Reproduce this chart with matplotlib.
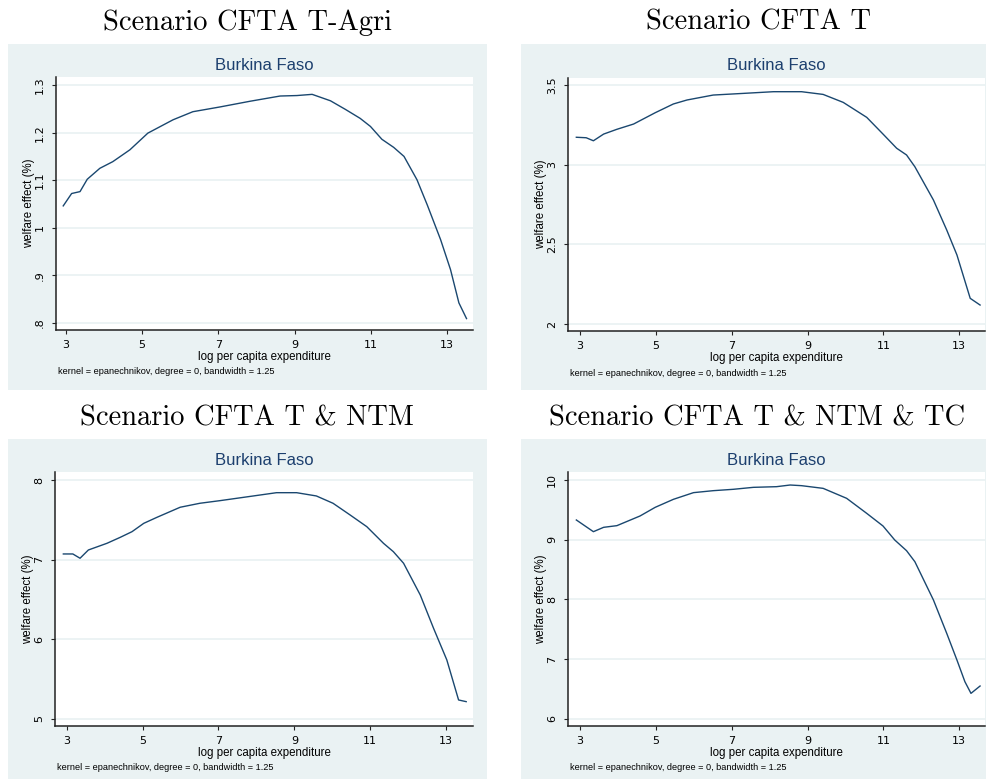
import matplotlib
matplotlib.use("Agg")
import matplotlib.pyplot as plt
from matplotlib.patches import Rectangle

W, H = 986, 781

titles = ["Scenario CFTA T-Agri", "Scenario CFTA T",
          "Scenario CFTA T & NTM", "Scenario CFTA T & NTM & TC"]
country = "Burkina Faso"
xlabel = "log per capita expenditure"
ylabel = "welfare effect (%)"
note = "kernel = epanechnikov, degree = 0, bandwidth = 1.25"
xticks = [3, 5, 7, 9, 11, 13]

# scenario T-Agri
x_agri = [2.93, 3.15, 3.37, 3.56, 3.89, 4.23, 4.68, 5.15, 5.81, 6.33, 7.04, 7.83, 8.62,
          9.06, 9.46, 9.94, 10.33, 10.72, 10.99, 11.29, 11.60, 11.87, 12.21, 12.48,
          12.83, 13.09, 13.31, 13.51]
y_agri = [1.046, 1.072, 1.076, 1.102, 1.125, 1.139, 1.164, 1.199, 1.227, 1.244, 1.254,
          1.266, 1.277, 1.278, 1.2805, 1.267, 1.249, 1.230, 1.213, 1.186, 1.169, 1.150,
          1.101, 1.048, 0.975, 0.912, 0.842, 0.809]
yt_agri = [0.8, 0.9, 1.0, 1.1, 1.2, 1.3]
yl_agri = [".8", ".9", "1", "1.1", "1.2", "1.3"]

# scenario T
x_t = [2.90, 3.16, 3.35, 3.62, 3.97, 4.41, 4.98, 5.46, 5.82, 6.51, 7.35, 8.10, 8.84,
       9.41, 9.94, 10.56, 10.99, 11.35, 11.61, 11.83, 12.32, 12.67, 12.94, 13.29, 13.55]
y_t = [3.172, 3.169, 3.150, 3.192, 3.222, 3.255, 3.326, 3.381, 3.406, 3.437, 3.448,
       3.458, 3.458, 3.441, 3.391, 3.297, 3.192, 3.103, 3.061, 2.987, 2.778, 2.590,
       2.433, 2.161, 2.119]
yt_t = [2, 2.5, 3, 3.5]
yl_t = ["2", "2.5", "3", "3.5"]

# scenario T & NTM
x_ntm = [2.91, 3.16, 3.35, 3.57, 4.06, 4.41, 4.72, 5.03, 5.38, 5.99, 6.51, 7.04, 7.92,
         8.53, 9.06, 9.58, 10.02, 10.47, 10.91, 11.35, 11.61, 11.88, 12.32, 12.67,
         13.02, 13.33, 13.53]
y_ntm = [7.070, 7.070, 7.016, 7.120, 7.204, 7.279, 7.350, 7.455, 7.531, 7.657, 7.707,
         7.740, 7.799, 7.840, 7.840, 7.799, 7.707, 7.560, 7.413, 7.204, 7.099, 6.953,
         6.554, 6.136, 5.738, 5.235, 5.214]
yt_ntm = [5, 6, 7, 8]
yl_ntm = ["5", "6", "7", "8"]

# scenario T & NTM & TC
x_tc = [2.90, 3.35, 3.62, 3.97, 4.58, 4.98, 5.46, 5.99, 6.51, 7.04, 7.57, 8.18, 8.54,
        8.84, 9.41, 10.03, 10.56, 10.99, 11.30, 11.61, 11.83, 12.32, 12.67, 12.94,
        13.15, 13.31, 13.55]
y_tc = [9.330, 9.134, 9.207, 9.235, 9.397, 9.542, 9.676, 9.788, 9.821, 9.844, 9.877,
        9.888, 9.916, 9.905, 9.860, 9.693, 9.441, 9.229, 8.994, 8.816, 8.631, 7.989,
        7.431, 6.983, 6.620, 6.425, 6.548]
yt_tc = [6, 7, 8, 9, 10]
yl_tc = ["6", "7", "8", "9", "10"]

series = [(x_agri, y_agri, yt_agri, yl_agri),
          (x_t, y_t, yt_t, yl_t),
          (x_ntm, y_ntm, yt_ntm, yl_ntm),
          (x_tc, y_tc, yt_tc, yl_tc)]

# pixel layout: background box, plot box, title centre/baseline, axis limits
layout = [
    dict(bg=(8, 44, 487, 390), plot=(56, 77, 473, 330), title=(247, 30),
         xlim=(2.74, 13.68), ylim=(0.785, 1.317)),
    dict(bg=(521, 44, 986, 390), plot=(568, 78, 985, 331), title=(758, 30),
         xlim=(2.68, 13.68), ylim=(1.956, 3.544)),
    dict(bg=(8, 439, 487, 779), plot=(55, 472, 473, 726), title=(247, 426),
         xlim=(2.69, 13.71), ylim=(4.908, 8.10)),
    dict(bg=(521, 439, 986, 779), plot=(568, 472, 985, 726), title=(757, 426),
         xlim=(2.68, 13.68), ylim=(5.878, 10.134)),
]

bg_col = "#EAF2F3"
line_col = "#1A476F"

fig = plt.figure(figsize=(W / 100, H / 100), dpi=100)
fig.patch.set_facecolor("white")


def fx(x):
    return x / W


def fy(y):
    return 1 - y / H


for (xs, ys, yt, yl), lay, title in zip(series, layout, titles):
    bx0, by0, bx1, by1 = lay["bg"]
    fig.add_artist(Rectangle((fx(bx0), fy(by1)), (bx1 - bx0) / W, (by1 - by0) / H,
                             transform=fig.transFigure, facecolor=bg_col,
                             edgecolor="none", zorder=0))
    px0, py0, px1, py1 = lay["plot"]
    ax = fig.add_axes([fx(px0), fy(py1), (px1 - px0) / W, (py1 - py0) / H])
    ax.set_facecolor("white")
    ax.plot(xs, ys, color=line_col, lw=1.0)
    ax.set_xlim(*lay["xlim"])
    ax.set_ylim(*lay["ylim"])
    ax.set_xticks(xticks)
    ax.set_xticklabels([str(t) for t in xticks])
    ax.set_yticks(yt)
    ax.set_yticklabels(yl, rotation=90, va="center")
    ax.yaxis.grid(True, color=bg_col, lw=1.3)
    ax.set_axisbelow(True)
    for s in ["top", "right"]:
        ax.spines[s].set_visible(False)
    for s in ["left", "bottom"]:
        ax.spines[s].set_color("#222222")
        ax.spines[s].set_linewidth(1.1)
    ax.tick_params(direction="out", length=3, width=0.8, pad=5, labelsize=8,
                   colors="#222222", labelcolor="black")
    ax.tick_params(axis="x", pad=4)

    cx = (px0 + px1) / 2
    fig.text(fx(cx), fy(py0 - 12), country, ha="center", va="center", fontsize=12,
             color="#1c3f6e", family="Liberation Sans")
    fig.text(fx(cx), fy(py1 + 27), xlabel, ha="center", va="center", fontsize=8.3,
             family="Liberation Sans")
    fig.text(fx(px0 - 27), fy((py0 + py1) / 2), ylabel, ha="center", va="center",
             rotation=90, fontsize=8.3, family="Liberation Sans")
    fig.text(fx(px0 + 2), fy(py1 + 42), note, ha="left", va="center", fontsize=6.6,
             family="Liberation Sans")
    tx, ty = lay["title"]
    fig.text(fx(tx), fy(ty), title, ha="center", va="baseline", fontsize=20.5,
             family="cmr10")

fig.savefig("out.png", dpi=100)
